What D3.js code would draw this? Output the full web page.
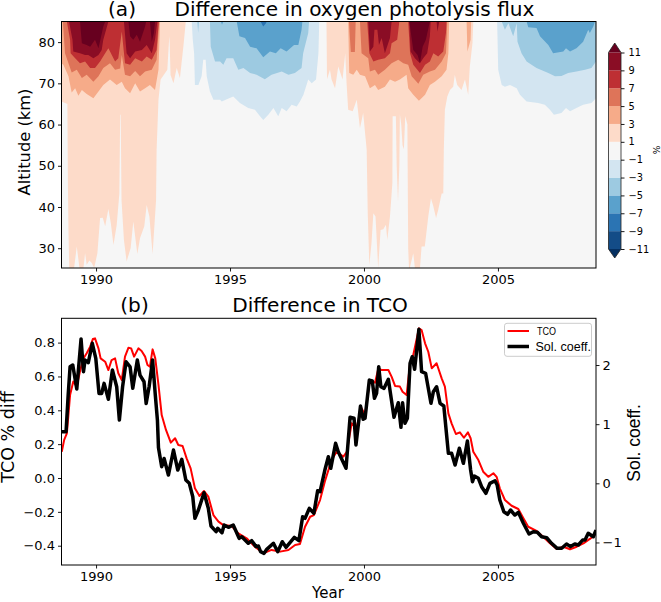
<!DOCTYPE html>
<html>
<head>
<meta charset="utf-8">
<script src="https://cdn.jsdelivr.net/npm/d3@7"></script>
<style>
  html, body { margin: 0; padding: 0; background: #fff; }
  svg { display: block; }
  text { font-family: "DejaVu Sans", sans-serif; fill: #000; }
</style>
</head>
<body>
<svg id="chart" width="661" height="602"></svg>
<script>
// contour levels and colours, low to high
const levels = [-11, -9, -7, -5, -3, -1, 1, 3, 5, 7, 9, 11];
const levelColors = ["#134c87", "#2b74b3", "#5aa1cc", "#9dcae1", "#d3e5f1", "#f6f6f6", "#fddbc9", "#f6ab89", "#de7459", "#be2f33", "#8a0d25"];
const underColor = "#053061";
const overColor = "#67001f";
const yearTicks = [1990, 1995, 2000, 2005];
const altTicks = [30, 40, 50, 60, 70, 80];
const tcoTicks = [-0.4, -0.2, 0, 0.2, 0.4, 0.6, 0.8];
const solTicks = [-1, 0, 1, 2];

// lower edge of each contour patch: [year, altitude km], patch runs up to the top of the panel
const plus1a = [[1988.71,65.6],[1988.93,65],[1988.95,45],[1988.97,34],[1989.0,25.2],[1989.18,25.2],[1989.28,30.4],[1989.38,25.2],[1989.53,25.2],[1989.59,28.8],[1989.65,26],[1989.75,27],[1989.84,26.4],[1989.93,25.2],[1990.05,28.8],[1990.15,37.3],[1990.25,37.4],[1990.34,35.3],[1990.46,39.5],[1990.55,36.1],[1990.65,30.8],[1990.77,35.6],[1990.87,43.3],[1990.9,62.4],[1990.92,62.4],[1990.95,41.7],[1991.04,32],[1991.14,26.8],[1991.29,30],[1991.39,36.5],[1991.54,28.6],[1991.64,32.4],[1991.8,35.3],[1991.89,40.5],[1991.99,37.7],[1992.11,28.6],[1992.24,41.7],[1992.26,53.9],[1992.33,66],[1992.41,70.9],[1992.66,73.3],[1992.72,80],[1992.74,81.4],[1992.78,72],[1992.89,70],[1993.01,73.7],[1993.13,71.3],[1993.26,79],[1993.35,85]];
const plus1b = [[1998.6,85],[1998.62,71],[1998.73,73.3],[1998.79,70.9],[1998.92,68.8],[1999.04,74.1],[1999.2,70.9],[1999.3,77.3],[1999.35,70],[1999.41,63.6],[1999.58,63.2],[1999.73,66],[1999.85,59.1],[1999.97,62.8],[2000.1,53.9],[2000.14,38.5],[2000.2,25.9],[2000.28,31.2],[2000.35,38.5],[2000.43,37.7],[2000.53,25.2],[2000.62,34.4],[2000.72,34.6],[2000.82,35.7],[2000.87,32],[2000.97,37.7],[2001.06,45.8],[2001.07,62],[2001.19,62],[2001.22,50],[2001.27,41.3],[2001.32,50],[2001.34,62.5],[2001.39,60],[2001.44,55],[2001.49,54],[2001.54,62],[2001.62,60],[2001.65,30],[2001.68,25.2],[2001.71,25.2],[2001.84,28.8],[2001.9,25.2],[2002.09,25.2],[2002.15,30.4],[2002.27,30.4],[2002.4,37.7],[2002.5,42.1],[2002.59,40.1],[2002.69,37.3],[2002.77,39.3],[2002.9,43.3],[2002.96,43.3],[2002.98,53.9],[2003.02,63.6],[2003.11,66.8],[2003.21,68.4],[2003.33,69.2],[2003.39,72],[2003.48,69.6],[2003.64,68.4],[2003.77,70.9],[2003.89,67.2],[2003.95,74],[2004.05,79.8],[2004.08,85]];
const plus3a = [[1988.7,74.9],[1988.78,74.5],[1988.97,71.7],[1989.09,67.8],[1989.22,68.8],[1989.34,67],[1989.47,68.4],[1989.65,67.4],[1989.9,66.4],[1990.09,68],[1990.27,69.6],[1990.52,70.9],[1990.77,69.6],[1990.96,70.4],[1991.08,68.8],[1991.27,67.6],[1991.46,70],[1991.64,68],[1991.83,68.8],[1992.01,69.6],[1992.2,68.4],[1992.33,73.3],[1992.39,85]];
const plus3b = [[1999.41,85],[1999.45,72.5],[1999.6,72.1],[1999.73,73.3],[1999.85,72.1],[2000.04,71.7],[2000.22,68.8],[2000.41,69.6],[2000.53,68.4],[2000.78,69.2],[2000.97,70.9],[2001.16,70.4],[2001.34,70.9],[2001.59,72.1],[2001.65,68.8],[2001.84,67.2],[2002.05,65.8],[2002.28,67.2],[2002.46,69.6],[2002.65,70.4],[2002.9,71.7],[2003.08,73.3],[2003.15,77.3],[2003.18,85]];
const plus3c = [[2003.83,85],[2003.86,77.7],[2003.98,80.6],[2004.0,85]];
const plus5a = [[1988.76,85],[1988.84,77.3],[1988.97,74.9],[1989.09,72.6],[1989.28,73.3],[1989.47,71.3],[1989.65,72.1],[1989.9,70.4],[1990.09,71.7],[1990.27,73.7],[1990.52,74.9],[1990.71,73.3],[1990.9,73.6],[1990.96,76.9],[1991.08,72.1],[1991.27,71.7],[1991.46,73],[1991.64,71.7],[1991.83,72.9],[1992.08,73.3],[1992.26,75.7],[1992.36,85]];
const plus5b = [[1999.44,85],[1999.48,80.6],[1999.51,77.6],[1999.66,77.6],[1999.69,85]];
const plus5c = [[1999.85,85],[1999.91,77.3],[2000.16,76.1],[2000.22,72.9],[2000.41,73.3],[2000.53,72.1],[2000.78,73.3],[2001.03,74.9],[2001.28,75.7],[2001.47,74.9],[2001.65,74.5],[2001.78,71.7],[2002.03,69.9],[2002.21,72.1],[2002.46,72.9],[2002.65,73.3],[2002.9,75.3],[2003.06,77.3],[2003.11,85]];
const plus7a = [[1988.91,85],[1989.03,80.6],[1989.05,77.3],[1989.22,76.1],[1989.4,74.9],[1989.59,75.3],[1989.78,73.7],[1989.96,73.7],[1990.15,75.3],[1990.34,77.3],[1990.46,78.5],[1990.71,75.3],[1990.83,76.1],[1990.96,82.6],[1991.08,74.9],[1991.27,74.5],[1991.46,76.1],[1991.71,75.3],[1991.89,76.5],[1992.08,75.7],[1992.26,78.1],[1992.34,85]];
const plus7b = [[2000.12,85],[2000.2,77.3],[2000.35,75.3],[2000.53,75.7],[2000.78,76.1],[2000.97,77.3],[2001.03,79.7],[2001.24,80.6],[2001.32,85]];
const plus7c = [[2001.65,85],[2001.72,77.3],[2001.84,74.5],[2002.09,72.5],[2002.28,74.5],[2002.46,75.3],[2002.59,77.3],[2002.77,76.5],[2002.96,77.7],[2003.06,82.2],[2003.08,85]];
const plus9a = [[1988.99,85],[1989.12,80.6],[1989.15,77.7],[1989.4,77.3],[1989.59,76.9],[1989.71,76.9],[1989.9,76.1],[1990.09,76.9],[1990.21,78.1],[1990.27,80.6],[1990.46,85]];
const plus9b = [[1991.04,85],[1991.14,77.3],[1991.27,76.1],[1991.46,77.7],[1991.71,78.1],[1991.89,79.3],[1992.08,77.3],[1992.2,80.6],[1992.29,85]];
const plus9c = [[2000.16,85],[2000.22,77.7],[2000.35,78.9],[2000.39,83],[2000.5,83],[2000.56,79.3],[2000.66,81],[2000.78,77.3],[2000.97,81],[2001.03,85]];
const plus9d = [[2001.69,85],[2001.74,77.7],[2001.9,76.1],[2002.09,74.9],[2002.21,76.1],[2002.36,77.3],[2002.46,81.4],[2002.49,85]];
const plus9e = [[2002.71,85],[2002.74,82.6],[2002.81,85]];
const plus11a = [[1989.4,85],[1989.47,79.7],[1989.65,79.3],[1989.78,78.9],[1989.96,80.6],[1990.09,78.5],[1990.27,83.8],[1990.34,85]];
const plus11b = [[1991.21,85],[1991.27,81.4],[1991.39,80.6],[1991.52,81.8],[1991.64,80.1],[1991.83,83.8],[1991.87,85]];
const plus11c = [[1992.01,85],[1992.08,80.1],[1992.16,82.2],[1992.2,85]];
const plus11d = [[2001.69,85],[2001.84,78.1],[2002.0,76.9],[2002.09,75],[2002.19,78.9],[2002.31,80.6],[2002.46,85]];

const minus1a = [[1993.57,85],[1993.61,80.6],[1993.66,77.3],[1993.69,69.6],[1993.82,69.6],[1993.94,71.7],[1994.0,75.7],[1994.09,75.7],[1994.13,71.7],[1994.25,68],[1994.38,66],[1994.63,66],[1994.69,65.6],[1995.12,66.8],[1995.37,65.2],[1995.68,64],[1995.93,63.6],[1996.12,62],[1996.24,61.1],[1996.43,62.4],[1996.62,64],[1996.8,62],[1996.93,64],[1997.11,63.2],[1997.3,64.8],[1997.49,64.4],[1997.61,65.6],[1997.74,67.2],[1997.92,70.9],[1998.05,70],[1998.21,70.9],[1998.3,77.3],[1998.33,85]];
const minus1b = [[2004.97,85],[2005.01,73.3],[2005.14,69.6],[2005.26,69.2],[2005.45,69.6],[2005.7,68.8],[2005.82,67.2],[2006.07,65.6],[2006.5,65.2],[2006.75,64.8],[2006.94,63.6],[2007.09,62.4],[2007.37,62.8],[2007.54,64],[2007.69,63.2],[2007.93,64],[2008.18,64.8],[2008.49,65.2],[2008.66,66.4]];
const minus3a = [[1993.78,85],[1993.81,82.3],[1993.84,85]];
const minus3b = [[1994.25,85],[1994.28,78.9],[1994.44,75.3],[1994.63,75.3],[1994.75,74.5],[1994.87,76.1],[1995.12,76.1],[1995.31,73.3],[1995.5,73.7],[1995.75,72.5],[1995.99,72.1],[1996.3,71],[1996.55,72.1],[1996.93,72.9],[1997.18,72.1],[1997.42,72.5],[1997.67,73.7],[1997.73,77.3],[1997.92,82.2],[1997.95,85]];
const minus3c = [[2005.14,85],[2005.26,83],[2005.39,84.6],[2005.57,81.4],[2005.7,84.6],[2005.73,80.1],[2005.88,77.3],[2006.07,75.3],[2006.44,73.7],[2006.88,72.5],[2007.13,71.7],[2007.37,71.8],[2007.62,72.5],[2007.93,72.9],[2008.25,73.3],[2008.49,73.7],[2008.66,75.3]];
const minus5a = [[1994.66,85],[1994.7,84.2],[1994.75,85]];
const minus5b = [[1995.25,85],[1995.35,81.4],[1995.56,81],[1995.75,78.9],[1995.99,78.5],[1996.24,76.3],[1996.49,77.7],[1996.71,77.3],[1996.89,78.5],[1997.11,77.7],[1997.39,79.3],[1997.55,79.3],[1997.67,83],[1997.7,85]];
const minus5c = [[2006.07,85],[2006.13,83.6],[2006.44,83.4],[2006.57,81.4],[2006.88,79.3],[2007.06,77.3],[2007.44,77.7],[2007.54,78.5],[2007.69,77.7],[2007.93,78.5],[2008.18,80.1],[2008.37,83],[2008.43,82.2],[2008.56,83.8],[2008.62,85]];
const minus7a = [[1996.14,85],[1996.24,83.8],[1996.34,84.6],[1996.37,85]];

// difference in total column ozone, %
const tcoSeries = [[1988.72,0.155],[1988.81,0.225],[1988.91,0.264],[1989.03,0.49],[1989.15,0.57],[1989.28,0.54],[1989.4,0.63],[1989.53,0.707],[1989.65,0.737],[1989.78,0.776],[1989.88,0.821],[1989.96,0.825],[1990.09,0.766],[1990.17,0.707],[1990.34,0.687],[1990.46,0.638],[1990.58,0.697],[1990.71,0.707],[1990.83,0.619],[1990.96,0.579],[1991.08,0.717],[1991.21,0.77],[1991.31,0.766],[1991.42,0.717],[1991.58,0.766],[1991.7,0.75],[1991.83,0.717],[1991.92,0.668],[1992.01,0.658],[1992.11,0.76],[1992.21,0.707],[1992.33,0.55],[1992.45,0.372],[1992.61,0.284],[1992.79,0.209],[1992.95,0.235],[1993.07,0.195],[1993.23,0.189],[1993.38,0.116],[1993.53,0.057],[1993.69,-0.061],[1993.86,-0.106],[1994.03,-0.077],[1994.19,-0.11],[1994.38,-0.219],[1994.57,-0.258],[1994.75,-0.278],[1995.06,-0.284],[1995.31,-0.327],[1995.62,-0.356],[1995.93,-0.406],[1996.24,-0.445],[1996.55,-0.425],[1996.87,-0.435],[1997.18,-0.425],[1997.43,-0.396],[1997.61,-0.39],[1997.8,-0.288],[1997.99,-0.229],[1998.13,-0.219],[1998.36,-0.13],[1998.54,-0.02],[1998.79,0.106],[1998.98,0.155],[1999.23,0.126],[1999.36,0.155],[1999.54,0.323],[1999.73,0.303],[1999.91,0.412],[2000.04,0.372],[2000.22,0.579],[2000.41,0.563],[2000.54,0.648],[2000.66,0.638],[2000.91,0.638],[2001.03,0.599],[2001.16,0.544],[2001.34,0.54],[2001.44,0.51],[2001.59,0.49],[2001.72,0.678],[2001.84,0.727],[2002.05,0.884],[2002.15,0.874],[2002.28,0.796],[2002.4,0.746],[2002.53,0.648],[2002.71,0.678],[2002.9,0.589],[2003.02,0.54],[2003.15,0.382],[2003.27,0.323],[2003.43,0.26],[2003.58,0.27],[2003.73,0.238],[2003.88,0.27],[2003.98,0.235],[2004.08,0.155],[2004.27,0.106],[2004.45,0.037],[2004.64,0.007],[2004.83,0.028],[2004.95,0.007],[2005.07,-0.061],[2005.26,-0.13],[2005.51,-0.164],[2005.76,-0.183],[2005.95,-0.238],[2006.13,-0.288],[2006.44,-0.313],[2006.69,-0.347],[2006.94,-0.386],[2007.19,-0.419],[2007.44,-0.406],[2007.69,-0.421],[2007.94,-0.406],[2008.19,-0.386],[2008.43,-0.36],[2008.62,-0.337]];

// solar regression coefficient
const solSeries = [[1988.72,0.872],[1988.88,0.872],[1988.96,1.5],[1989.03,1.97],[1989.13,2.0],[1989.28,1.594],[1989.44,2.44],[1989.53,1.887],[1989.59,2.085],[1989.71,2.04],[1989.86,2.367],[1989.99,2.113],[1990.11,1.52],[1990.21,1.52],[1990.3,1.69],[1990.46,1.42],[1990.61,1.915],[1990.77,1.633],[1990.87,1.07],[1990.99,1.633],[1991.12,2.056],[1991.27,1.97],[1991.37,1.606],[1991.54,2.085],[1991.64,1.83],[1991.79,1.717],[1991.87,1.35],[1991.98,1.633],[1992.11,2.085],[1992.21,1.5],[1992.29,1.07],[1992.33,0.6],[1992.45,0.28],[1992.54,0.42],[1992.7,0.14],[1992.89,0.563],[1993.05,0.225],[1993.2,0.405],[1993.35,0.056],[1993.48,0],[1993.61,-0.227],[1993.69,-0.592],[1993.82,-0.451],[1994.03,-0.159],[1994.19,-0.423],[1994.29,-0.722],[1994.48,-0.818],[1994.54,-0.761],[1994.7,-0.835],[1994.78,-0.705],[1994.94,-0.744],[1995.12,-0.705],[1995.34,-0.93],[1995.44,-0.903],[1995.68,-1.014],[1995.81,-0.97],[1995.97,-1.07],[1996.06,-1.06],[1996.14,-1.156],[1996.27,-1.184],[1996.37,-1.116],[1996.62,-1.014],[1996.78,-1.156],[1996.95,-0.987],[1997.09,-1.082],[1997.4,-0.913],[1997.57,-0.97],[1997.71,-0.565],[1997.8,-0.592],[1997.96,-0.423],[1998.13,-0.507],[1998.27,-0.125],[1998.36,-0.142],[1998.54,0.225],[1998.67,0.45],[1998.76,0.254],[1998.94,0.676],[1999.04,0.534],[1999.33,0.254],[1999.48,1.116],[1999.63,1.1],[1999.7,0.648],[1999.87,1.307],[1999.97,1.082],[2000.04,1.1],[2000.2,1.746],[2000.31,1.73],[2000.39,1.437],[2000.47,1.522],[2000.55,1.971],[2000.63,1.633],[2000.75,1.606],[2000.91,1.758],[2001.12,1.116],[2001.28,1.363],[2001.38,0.947],[2001.44,1.363],[2001.53,1.014],[2001.62,1.1],[2001.72,2.03],[2001.8,2.14],[2001.89,1.927],[2002.05,2.604],[2002.15,1.887],[2002.3,1.86],[2002.5,1.353],[2002.59,1.549],[2002.71,1.633],[2002.84,1.353],[2002.98,1.307],[2003.15,0.507],[2003.27,0.507],[2003.4,0.31],[2003.56,0.592],[2003.71,0.338],[2003.86,0.715],[2003.98,0.225],[2004.05,0.027],[2004.12,0.123],[2004.27,0.085],[2004.39,-0.057],[2004.55,-0.169],[2004.7,0],[2004.89,0.044],[2004.97,-0.029],[2005.07,-0.282],[2005.22,-0.48],[2005.36,-0.524],[2005.47,-0.451],[2005.63,-0.536],[2005.76,-0.49],[2005.95,-0.676],[2006.16,-0.857],[2006.32,-0.818],[2006.47,-0.828],[2006.63,-0.903],[2006.82,-0.92],[2007.0,-1.014],[2007.21,-1.099],[2007.38,-1.099],[2007.56,-1.026],[2007.71,-1.07],[2007.87,-1.026],[2008.0,-1.043],[2008.16,-0.959],[2008.25,-0.959],[2008.37,-0.845],[2008.56,-0.903],[2008.66,-0.79]];

// patches grouped by level, painted low contrast first so darker ones sit on top
const positiveBands = [
  { color: levelColors[6], patches: [plus1a, plus1b] },
  { color: levelColors[7], patches: [plus3a, plus3b, plus3c] },
  { color: levelColors[8], patches: [plus5a, plus5b, plus5c] },
  { color: levelColors[9], patches: [plus7a, plus7b, plus7c] },
  { color: levelColors[10], patches: [plus9a, plus9b, plus9c, plus9d, plus9e] },
  { color: overColor, patches: [plus11a, plus11b, plus11c, plus11d] }
];
const negativeBands = [
  { color: levelColors[4], patches: [minus1a, minus1b] },
  { color: levelColors[3], patches: [minus3a, minus3b, minus3c] },
  { color: levelColors[2], patches: [minus5a, minus5b, minus5c] },
  { color: levelColors[1], patches: [minus7a] }
];

const svg = d3.select("#chart");
const left = 61.5, right = 596;

const x = d3.scaleLinear().domain([1988.71, 2008.66]).range([left, right]);
const yAlt = d3.scaleLinear().domain([25.2, 85]).range([268, 21.5]);
const yTco = d3.scaleLinear().domain([-0.514, 0.9436]).range([565, 318.3]);
const ySol = d3.scaleLinear().domain([-1.381, 2.79]).range([565, 318.3]);
const yBar = d3.scaleLinear().domain([-11, 11]).range([249, 52.5]);

function styleAxis(g, size)
{
  g.select(".domain").remove();
  g.selectAll("line").attr("stroke", "#000").attr("stroke-width", 0.9);
  g.selectAll("text").attr("font-size", size).attr("font-family", "DejaVu Sans");
}

function frame(top, bottom)
{
  svg.append("rect")
    .attr("x", left).attr("y", top)
    .attr("width", right - left).attr("height", bottom - top)
    .attr("fill", "none").attr("stroke", "#000").attr("stroke-width", 1);
}

// panel (a)
svg.append("clipPath").attr("id", "clip-a").append("rect")
  .attr("x", left).attr("y", 21.5).attr("width", right - left).attr("height", 246.5);
svg.append("clipPath").attr("id", "clip-b").append("rect")
  .attr("x", left).attr("y", 318.3).attr("width", right - left).attr("height", 246.7);

const panelA = svg.append("g").attr("clip-path", "url(#clip-a)");
panelA.append("rect")
  .attr("x", left).attr("y", 21.5).attr("width", right - left).attr("height", 246.5)
  .attr("fill", levelColors[5]);

const patchArea = d3.area()
  .x(d => x(d[0]))
  .y0(yAlt(85))
  .y1(d => yAlt(d[1]));

for (const band of positiveBands.concat(negativeBands))
{
  panelA.append("g").selectAll("path").data(band.patches).join("path")
    .attr("d", patchArea)
    .attr("fill", band.color);
}

svg.append("g").attr("transform", "translate(0,268)")
  .call(d3.axisBottom(x).tickValues(yearTicks).tickFormat(d3.format("d")).tickSize(3.5).tickSizeOuter(0))
  .call(styleAxis, 13);
svg.append("g").attr("transform", `translate(${left},0)`)
  .call(d3.axisLeft(yAlt).tickValues(altTicks).tickSize(3.5).tickSizeOuter(0))
  .call(styleAxis, 13);
frame(21.5, 268);

svg.append("text").attr("x", 122).attr("y", 16).attr("text-anchor", "middle").attr("font-size", 20.1).text("(a)");
svg.append("text").attr("x", 354.5).attr("y", 16).attr("text-anchor", "middle").attr("font-size", 20.1).text("Difference in oxygen photolysis flux");
svg.append("text").attr("transform", "translate(30,142) rotate(-90)").attr("text-anchor", "middle").attr("font-size", 16.3).text("Altitude (km)");

// colour bar
const barX = 608.5, barW = 12.5;
const barSteps = d3.pairs(levels);
svg.append("g").selectAll("rect").data(barSteps).join("rect")
  .attr("x", barX).attr("width", barW)
  .attr("y", d => yBar(d[1]))
  .attr("height", d => yBar(d[0]) - yBar(d[1]))
  .attr("fill", (d, i) => levelColors[i]);
svg.append("path")
  .attr("d", `M${barX},${yBar(11)}L${barX + barW / 2},43L${barX + barW},${yBar(11)}Z`)
  .attr("fill", overColor);
svg.append("path")
  .attr("d", `M${barX},${yBar(-11)}L${barX + barW / 2},258L${barX + barW},${yBar(-11)}Z`)
  .attr("fill", underColor);
svg.append("path")
  .attr("d", `M${barX},${yBar(11)}L${barX + barW / 2},43L${barX + barW},${yBar(11)}V${yBar(-11)}L${barX + barW / 2},258L${barX},${yBar(-11)}Z`)
  .attr("fill", "none").attr("stroke", "#222").attr("stroke-width", 0.8);
svg.append("g").attr("transform", `translate(${barX + barW},0)`)
  .call(d3.axisRight(yBar).tickValues(levels).tickFormat(d3.format("d")).tickSize(3.5).tickPadding(4).tickSizeOuter(0))
  .call(styleAxis, 9.8);
svg.append("text").attr("transform", "translate(660,150) rotate(-90)").attr("text-anchor", "middle").attr("font-size", 9).text("%");

// panel (b)
const panelB = svg.append("g").attr("clip-path", "url(#clip-b)");
panelB.append("path").datum(tcoSeries)
  .attr("d", d3.line().x(d => x(d[0])).y(d => yTco(d[1])))
  .attr("fill", "none").attr("stroke", "#ff0000").attr("stroke-width", 2).attr("stroke-linejoin", "round");
panelB.append("path").datum(solSeries)
  .attr("d", d3.line().x(d => x(d[0])).y(d => ySol(d[1])))
  .attr("fill", "none").attr("stroke", "#000").attr("stroke-width", 3.5).attr("stroke-linejoin", "round");

svg.append("g").attr("transform", "translate(0,565)")
  .call(d3.axisBottom(x).tickValues(yearTicks).tickFormat(d3.format("d")).tickSize(3.5).tickSizeOuter(0))
  .call(styleAxis, 13);
svg.append("g").attr("transform", `translate(${left},0)`)
  .call(d3.axisLeft(yTco).tickValues(tcoTicks).tickFormat(d3.format(".1f")).tickSize(3.5).tickSizeOuter(0))
  .call(styleAxis, 13);
svg.append("g").attr("transform", `translate(${right},0)`)
  .call(d3.axisRight(ySol).tickValues(solTicks).tickFormat(d3.format("d")).tickSize(3.5).tickSizeOuter(0))
  .call(styleAxis, 13);
frame(318.3, 565);

svg.append("text").attr("x", 134.5).attr("y", 312).attr("text-anchor", "middle").attr("font-size", 20.1).text("(b)");
svg.append("text").attr("x", 320).attr("y", 312).attr("text-anchor", "middle").attr("font-size", 20.1).text("Difference in TCO");
svg.append("text").attr("transform", "translate(14,437) rotate(-90)").attr("text-anchor", "middle").attr("font-size", 17.5).text("TCO % diff");
svg.append("text").attr("x", 328).attr("y", 598).attr("text-anchor", "middle").attr("font-size", 15).text("Year");
svg.append("text").attr("transform", "translate(640,443) rotate(-90)").attr("text-anchor", "middle")
  .attr("font-size", 17.5).style("font-family", "Liberation Sans").text("Sol. coeff.");

// legend
const legend = svg.append("g");
legend.append("rect")
  .attr("x", 504.5).attr("y", 323.3).attr("width", 87).attr("height", 33).attr("rx", 2.5)
  .attr("fill", "#fff").attr("fill-opacity", 0.8).attr("stroke", "#ccc").attr("stroke-width", 1);
legend.append("line").attr("x1", 507.5).attr("x2", 529).attr("y1", 331).attr("y2", 331)
  .attr("stroke", "#ff0000").attr("stroke-width", 2);
legend.append("line").attr("x1", 507.5).attr("x2", 529).attr("y1", 346.5).attr("y2", 346.5)
  .attr("stroke", "#000").attr("stroke-width", 3.5);
legend.append("text").attr("x", 537).attr("y", 335).attr("font-size", 10)
  .attr("textLength", 19).attr("lengthAdjust", "spacingAndGlyphs")
  .style("font-family", "Liberation Sans").text("TCO");
legend.append("text").attr("x", 535.5).attr("y", 350.5).attr("font-size", 12.5)
  .style("font-family", "Liberation Sans").text("Sol. coeff.");
</script>
</body>
</html>
